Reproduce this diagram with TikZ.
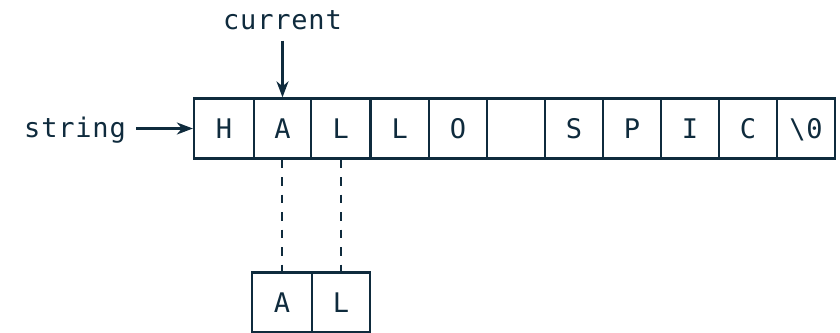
\documentclass[tikz,border=0pt]{standalone}
\usepackage{fontspec}
\setmonofont[LetterSpace=3]{DejaVu Sans Mono}
\usetikzlibrary{arrows.meta}
\definecolor{ink}{HTML}{0F2B3D}
\begin{document}
\begin{tikzpicture}[x=1pt,y=-1pt,
  every node/.style={font=\ttfamily\fontsize{27}{32}\selectfont, text=ink},
  cell/.style={draw=ink, line width=2.3pt, inner sep=0pt, minimum height=60pt, text height=19.7pt, text depth=0pt},
  lbl/.style={inner sep=0pt},
  arr/.style={draw=ink, line width=2.3pt, -{Stealth[length=16pt,width=12pt,inset=5pt]}},
  link/.style={draw=ink, line width=2.5pt, dash pattern=on 8.5pt off 9pt}]
\useasboundingbox (0,0) rectangle (840,332);
\foreach \l/\r/\t [count=\i] in {194/254/H,254/311/A,311/370.5/L,370.5/429/L,429/487/O,487/545/{},545/603/S,603/661/P,661/719/I,719/777/C,777/835/\textbackslash0}
  \node[cell, minimum width={\r-\l}] (c\i) at ({(\l+\r)/2},128.5) {\t};
\node[cell, minimum width=60] (b1) at (282,302.5) {A};
\node[cell, minimum width=58] (b2) at (341,302.5) {L};
\node[lbl, anchor=base] (cur) at (282.5,29) {current};
\node[lbl, anchor=base east] (str) at (126,137) {string};
\draw[arr, shorten <=11pt] (cur.south) -- (c2.north);
\draw[arr, shorten <=10pt] (str.east |- c1.west) -- (c1.west);
\draw[link] (c2.south -| b1.north) -- (b1.north);
\draw[link] (c3.south -| b2.north) -- (b2.north);
\end{tikzpicture}
\end{document}
